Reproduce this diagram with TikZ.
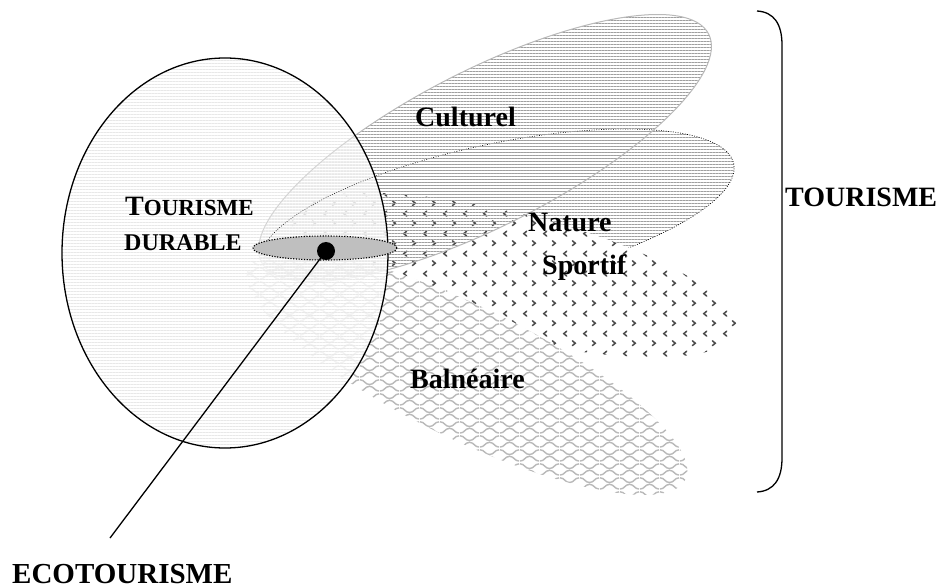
\documentclass[tikz,border=0pt]{standalone}
\usepackage{fontspec}
\setmainfont{Liberation Serif}
\usetikzlibrary{patterns,patterns.meta}

\pgfdeclarepattern{
  name=chevrons,
  type=uncolored,
  bottom left={\pgfpoint{0pt}{0pt}},
  top right={\pgfpoint{20pt}{20pt}},
  tile size={\pgfpoint{20pt}{20pt}},
  code={
    \pgfsetlinewidth{1.6pt}
    \pgfsetroundcap
    \pgfpathmoveto{\pgfpoint{7pt}{17.5pt}}
    \pgfpathlineto{\pgfpoint{4pt}{15pt}}
    \pgfpathlineto{\pgfpoint{7pt}{12.5pt}}
    \pgfpathmoveto{\pgfpoint{13pt}{7.5pt}}
    \pgfpathlineto{\pgfpoint{16pt}{5pt}}
    \pgfpathlineto{\pgfpoint{13pt}{2.5pt}}
    \pgfusepath{stroke}
  }
}
\pgfdeclarepattern{
  name=waves,
  type=uncolored,
  bottom left={\pgfpoint{0pt}{0pt}},
  top right={\pgfpoint{20pt}{14pt}},
  tile size={\pgfpoint{20pt}{14pt}},
  code={
    \pgfsetlinewidth{1.5pt}
    \pgfpathmoveto{\pgfpoint{0pt}{1pt}}
    \pgfpathcurveto{\pgfpoint{5pt}{1pt}}{\pgfpoint{5pt}{6pt}}{\pgfpoint{10pt}{6pt}}
    \pgfpathcurveto{\pgfpoint{15pt}{6pt}}{\pgfpoint{15pt}{1pt}}{\pgfpoint{20pt}{1pt}}
    \pgfpathmoveto{\pgfpoint{0pt}{13pt}}
    \pgfpathcurveto{\pgfpoint{5pt}{13pt}}{\pgfpoint{5pt}{8pt}}{\pgfpoint{10pt}{8pt}}
    \pgfpathcurveto{\pgfpoint{15pt}{8pt}}{\pgfpoint{15pt}{13pt}}{\pgfpoint{20pt}{13pt}}
    \pgfusepath{stroke}
  }
}

\begin{document}
\begin{tikzpicture}[x=1pt,y=-1pt,
  lbl/.style={inner sep=0pt, anchor=base west, font=\fontsize{28}{30}\selectfont\bfseries},
  hatch/.style={pattern={Lines[angle=0,distance=3pt,line width=1pt]}, pattern color=gray!75},
  faint/.style={pattern={Lines[angle=0,distance=3pt,line width=0.4pt]}, pattern color=gray!18},
  natline/.style={draw=black, line width=0.7pt, dash pattern=on 0.8pt off 1.6pt},
  culline/.style={draw=gray!55, line width=1pt},
  thickline/.style={line width=1.3pt}]
\useasboundingbox (0,0) rectangle (943,588);

% Nature
\path[hatch, rotate around={12:(497,214)}] (497,214) ellipse [x radius=242, y radius=70];
\path[natline, rotate around={12:(497,214)}] (497,214) ellipse [x radius=242, y radius=70];
% Sportif
\path[preaction={fill=white}, pattern=chevrons, pattern color=gray!60!black, rotate around={-14:(511,275)}] (511,275) ellipse [x radius=232, y radius=62];
% Balneaire
\path[preaction={fill=white}, pattern=waves, pattern color=gray!55, rotate around={-26:(467,373)}] (467,373) ellipse [x radius=243, y radius=66];
% Culturel
\path[hatch, rotate around={27:(485,148)}] (485,148) ellipse [x radius=251, y radius=78];
\path[culline, rotate around={27:(485,148)}] (485,148) ellipse [x radius=251, y radius=78];

% Tourisme durable
\fill[white, fill opacity=0.82] (225,253) ellipse [x radius=163, y radius=195];
\path[faint] (225,253) ellipse [x radius=163, y radius=195];
\begin{scope}
  \clip (225,253) ellipse [x radius=163, y radius=195];
  \clip (0,0) rectangle (400,243);
  \path[natline, line width=0.5pt, rotate around={12:(497,214)}] (497,214) ellipse [x radius=242, y radius=70];
  \path[draw=gray!35, line width=0.8pt, rotate around={27:(485,148)}] (485,148) ellipse [x radius=251, y radius=78];
\end{scope}
\draw[thickline] (225,253) ellipse [x radius=163, y radius=195];

% Ecotourisme
\path[fill=gray!50, draw=black, line width=1.1pt, dash pattern=on 1.2pt off 1.5pt] (325,248) ellipse [x radius=72, y radius=12];
\coordinate (ecoend) at (110,538);
\node[circle, fill=black, inner sep=0pt, minimum size=18pt] (dot) at (326,251) {};
\draw[thickline] (dot.center) -- (ecoend);

% labels
\node[lbl] (cult) at (415,127) {Culturel};
\node[lbl] (nat) at (528,232) {Nature};
\node[lbl] (sport) at (542,275) {Sportif};
\node[lbl] (baln) at (410,388) {Balnéaire};
\node[lbl] (tour) at (785,207) {TOURISME};
\node[lbl] (td1) at (125,216) {T{\fontsize{23}{25}\selectfont OURISME}};
\node[lbl, font=\fontsize{24}{26}\selectfont\bfseries] (td2) at (124,251) {DURABLE};
\node[lbl, font=\fontsize{29}{31}\selectfont\bfseries] (eco) at (12,583) {ECOTOURISME};

% bracket
\draw[thickline] (757,11) .. controls (774,12) and (782,24) .. (782,45) -- (782,458) .. controls (782,479) and (774,491) .. (757,492);
\end{tikzpicture}
\end{document}
